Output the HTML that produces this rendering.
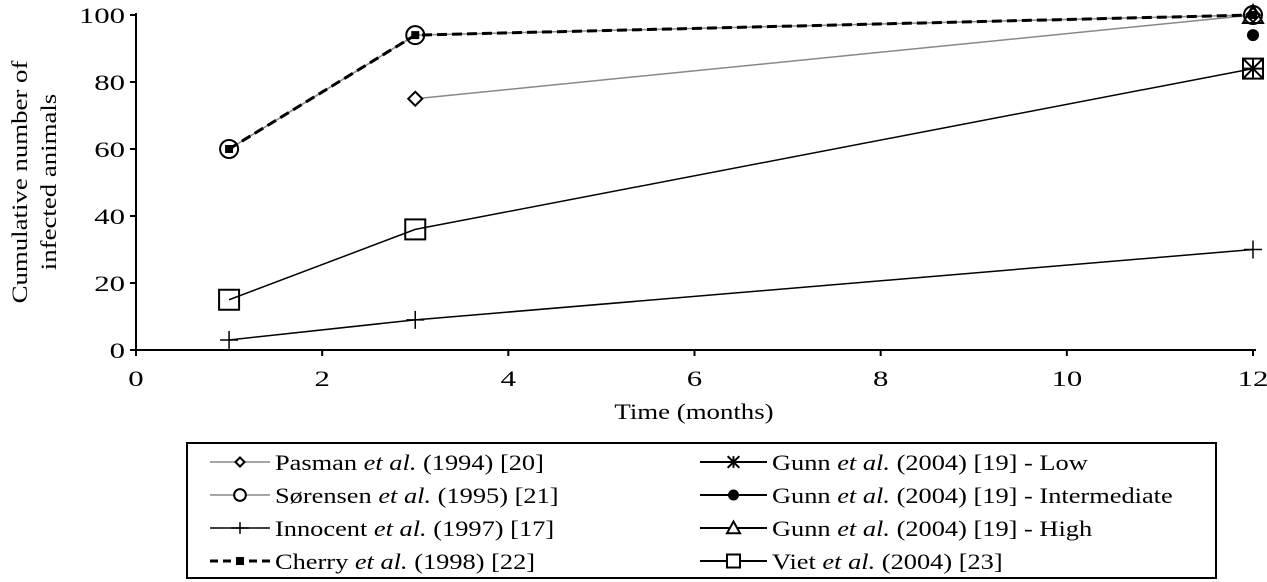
<!DOCTYPE html>
<html><head><meta charset="utf-8"><style>
body{margin:0;background:#fff;}
svg{display:block;font-family:"Liberation Serif",serif;}
</style></head><body>
<svg id="c" width="1267" height="582" xmlns="http://www.w3.org/2000/svg">
<g id="axes"></g>
<g id="series"></g>
<text x="0" y="0" transform="translate(27,182) rotate(-90) scale(1.22,1)" text-anchor="middle" font-size="22">Cumulative number of</text>
<text x="0" y="0" transform="translate(56,182) rotate(-90) scale(1.22,1)" text-anchor="middle" font-size="22">infected animals</text>
<text x="0" y="0" transform="translate(694,419) scale(1.22,1)" text-anchor="middle" font-size="22">Time (months)</text>
<rect x="187" y="443" width="1029" height="135" fill="none" stroke="#000" stroke-width="2"/>
<g id="legend"></g>
</svg>
<script>
const xTicks=[0,2,4,6,8,10,12];
const yTicks=[0,20,40,60,80,100];
const pasmanX=[3,12], pasmanY=[75,100];
const sorensenX=[1,3,12], sorensenY=[60,94,100];
const innocentX=[1,3,12], innocentY=[3,9,30];
const cherryX=[1,3,12], cherryY=[60,94,100];
const gunnLowX=[12], gunnLowY=[84];
const gunnIntX=[12], gunnIntY=[94];
const gunnHighX=[12], gunnHighY=[100];
const vietX=[1,3,12], vietY=[15,36,84];
const NS="http://www.w3.org/2000/svg";
const X=v=>136+v*(1253-136)/12;
const Y=v=>350-v*(350-15)/100;
function el(tag,attrs,parent){const e=document.createElementNS(NS,tag);for(const k in attrs)e.setAttribute(k,attrs[k]);parent.appendChild(e);return e;}
const axes=document.getElementById('axes');
let a=el('line',{x1:136,y1:350,x2:1256,y2:350,stroke:'#000','stroke-width':2},axes);


a=el('line',{x1:136,y1:13,x2:136,y2:351,stroke:'#000','stroke-width':2},axes);


xTicks.forEach(t=>{el('line',{x1:X(t),y1:350,x2:X(t),y2:356,stroke:'#000','stroke-width':2},axes);
const tx=el('text',{x:0,y:0,transform:`translate(${X(t)},386) scale(1.4,1)`,'text-anchor':'middle','font-size':22},axes);tx.textContent=t;

});
yTicks.forEach(t=>{el('line',{x1:130,y1:Y(t),x2:136,y2:Y(t),stroke:'#000','stroke-width':2},axes);
const tx=el('text',{x:0,y:0,transform:`translate(125,${Y(t)+8}) scale(1.4,1)`,'text-anchor':'end','font-size':22},axes);tx.textContent=t;

});
function marker(type,cx,cy,g,small){
 const k=small?0.65:1;
 const s={fill:small?'#fff':'none',stroke:'#000','stroke-width':2};
 if(type==='diamond')el('polygon',{points:`${cx},${cy-7*k} ${cx+7*k},${cy} ${cx},${cy+7*k} ${cx-7*k},${cy}`,fill:'#fff',stroke:'#000','stroke-width':2},g);
 if(type==='circle')el('circle',Object.assign({cx,cy,r:9*k},s),g);
 if(type==='plus'){el('line',{x1:cx-9,y1:cy,x2:cx+9,y2:cy,stroke:'#000','stroke-width':1.5},g);el('line',{x1:cx,y1:cy-9*k,x2:cx,y2:cy+9*k,stroke:'#000','stroke-width':1.5},g);}
 if(type==='sqfill')el('rect',{x:cx-4,y:cy-4,width:8,height:8,fill:'#000'},g);
 if(type==='star'){[[-9,-9,9,9],[-9,9,9,-9],[0,-9,0,9],[-9,0,9,0]].forEach(d=>el('line',{x1:cx+d[0]*k,y1:cy+d[1]*k,x2:cx+d[2]*k,y2:cy+d[3]*k,stroke:'#000','stroke-width':2},g));}
 if(type==='dot')el('circle',{cx,cy,r:small?5.5:6,fill:'#000'},g);
 if(type==='tri')el('polygon',Object.assign({points:`${cx},${cy-10*k} ${cx+10*k},${cy+8*k} ${cx-10*k},${cy+8*k}`},s),g);
 if(type==='square')el('rect',Object.assign({x:cx-10*k,y:cy-10*k,width:20*k,height:20*k},s),g);
}
const seriesDefs=[
 ['pasman',pasmanX,pasmanY,'#888',1.5,null,'diamond','Pasman','(1994) [20]'],
 ['sorensen',sorensenX,sorensenY,'#888',1.5,null,'circle','Sørensen','(1995) [21]'],
 ['innocent',innocentX,innocentY,'#000',1.5,null,'plus','Innocent','(1997) [17]'],
 ['cherry',cherryX,cherryY,'#000',3,'10,5','sqfill','Cherry','(1998) [22]'],
 ['gunn-low',gunnLowX,gunnLowY,'#000',1.5,null,'star','Gunn','(2004) [19] - Low'],
 ['gunn-intermediate',gunnIntX,gunnIntY,'#000',1.5,null,'dot','Gunn','(2004) [19] - Intermediate'],
 ['gunn-high',gunnHighX,gunnHighY,'#000',1.5,null,'tri','Gunn','(2004) [19] - High'],
 ['viet',vietX,vietY,'#000',1.5,null,'square','Viet','(2004) [23]']
];
const sg=document.getElementById('series');
const lg=document.getElementById('legend');
seriesDefs.forEach((d,i)=>{
 const g=el('g',{},sg);
 
 
 if(d[1].length>1){const p=el('polyline',{points:d[1].map((x,j)=>X(x)+','+Y(d[2][j])).join(' '),fill:'none',stroke:d[3],'stroke-width':d[4]},g);if(d[5])p.setAttribute('stroke-dasharray',d[5]);}
 d[1].forEach((x,j)=>marker(d[6],X(x),Y(d[2][j]),g,false));
 const col=i<4?0:1,row=i%4;
 const lx=col?700:210,ly=462+row*33,w=col?67:60;
 const e=el('g',{},lg);
 
 
 const l=el('line',{x1:lx,y1:ly,x2:lx+w,y2:ly,stroke:d[3],'stroke-width':col?2:d[4]},e);
 if(d[5])l.setAttribute('stroke-dasharray','8,5');
 marker(d[6],lx+w/2,ly,e,true);
 const t=el('text',{x:0,y:0,transform:`translate(${lx+w+5},${ly+8}) scale(1.2,1)`,'font-size':22},e);
 t.innerHTML=d[7]+' <tspan font-style="italic">et al.</tspan> '+d[8];
});
</script>
</body></html>
